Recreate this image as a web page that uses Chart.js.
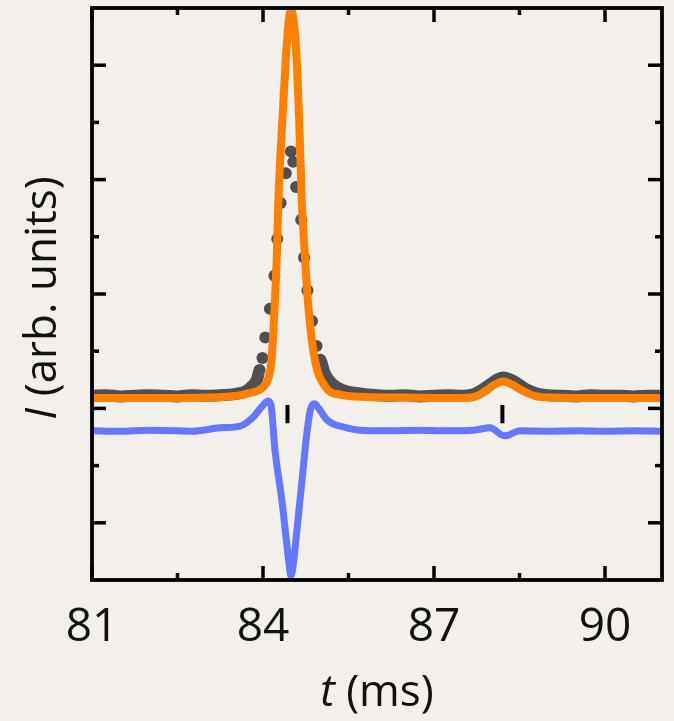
<!DOCTYPE html>
<html>
<head>
<meta charset="utf-8">
<script src="https://cdn.jsdelivr.net/npm/chart.js@4.4.1/dist/chart.umd.min.js"></script>
<style>
  html, body { margin: 0; padding: 0; background: #f3f0eb; }
  #wrap { width: 674px; height: 721px; }
</style>
</head>
<body>
<div id="wrap"><canvas id="pulse" width="674" height="721"></canvas></div>
<script>
// ── measured signal (dots near the peak), baseline band of the same signal
const dotT = [83.94, 83.99, 84.04, 84.12, 84.20, 84.25, 84.31, 84.40, 84.49, 84.53, 84.58, 84.67, 84.72, 84.78, 84.86, 84.94, 85.00];
const dotI = [3.67, 3.88, 4.24, 4.74, 5.32, 5.96, 6.59, 7.11, 7.49, 7.31, 6.87, 6.30, 5.64, 5.06, 4.53, 4.09, 3.85];

const bandT = [81.0, 81.25, 81.5, 81.75, 82.0, 82.25, 82.5, 82.75, 83.0, 83.25, 83.5, 83.7, 83.82, 83.9, 83.94,
               85.0, 85.08, 85.2, 85.4, 85.7, 86.0, 86.25, 86.5, 86.75, 87.0, 87.25, 87.5, 87.7, 87.85, 88.0, 88.12, 88.22,
               88.35, 88.5, 88.65, 88.8, 89.0, 89.25, 89.5, 89.75, 90.0, 90.25, 90.5, 90.75, 91.0];
const bandI = [3.22, 3.23, 3.21, 3.22, 3.23, 3.22, 3.21, 3.23, 3.22, 3.23, 3.25, 3.30, 3.40, 3.52, 3.67,
               3.85, 3.62, 3.44, 3.32, 3.26, 3.23, 3.22, 3.23, 3.21, 3.22, 3.23, 3.22, 3.25, 3.33, 3.43, 3.51, 3.54,
               3.50, 3.41, 3.32, 3.26, 3.23, 3.22, 3.21, 3.23, 3.22, 3.22, 3.21, 3.22, 3.22];

// ── fit
const fitT = [81.0, 82.0, 83.0, 83.42, 83.77, 84.01, 84.10, 84.15, 84.20, 84.24, 84.27, 84.33, 84.40, 84.45, 84.49,
              84.54, 84.59, 84.64, 84.68, 84.74, 84.80, 84.91, 85.09, 85.35, 85.8, 86.5, 87.4, 87.7, 87.9, 88.05, 88.22,
              88.38, 88.55, 88.8, 89.1, 90.0, 91.0];
const fitI = [3.18, 3.18, 3.19, 3.21, 3.27, 3.38, 3.55, 3.85, 4.70, 5.60, 6.65, 7.87, 9.12, 9.75, 9.97,
              9.75, 9.12, 7.87, 6.65, 5.60, 4.72, 3.85, 3.38, 3.24, 3.20, 3.19, 3.18, 3.20, 3.30, 3.41, 3.47,
              3.41, 3.31, 3.21, 3.19, 3.18, 3.18];

// ── residual
const resT = [81.0, 81.5, 82.0, 82.5, 82.76, 83.25, 83.60, 83.83, 83.98, 84.09, 84.14, 84.21, 84.33, 84.45, 84.49,
              84.53, 84.59, 84.68, 84.77, 84.83, 84.90, 84.97, 85.12, 85.47, 85.70, 86.2, 86.7, 87.2, 87.7, 87.98,
              88.24, 88.51, 89.0, 89.5, 90.0, 90.5, 91.0];
const resI = [2.61, 2.60, 2.62, 2.61, 2.60, 2.66, 2.69, 2.85, 3.03, 3.13, 3.06, 2.27, 1.40, 0.35, 0.07,
              0.26, 0.82, 1.70, 2.57, 2.97, 3.08, 3.01, 2.80, 2.66, 2.62, 2.61, 2.62, 2.61, 2.62, 2.66,
              2.52, 2.61, 2.60, 2.61, 2.60, 2.61, 2.60];

// ── peak markers
const markT = [84.43, 88.20];
const markLo = 2.74, markHi = 3.06;

// ── axes
const xMin = 81, xMax = 91, yMin = 0, yMax = 10;
const xMajor = [81, 84, 87, 90];
const xMinor = [82.5, 85.5, 88.5];
const xLabels = ['81', '84', '87', '90'];
const yMajor = [1, 3, 5, 7, 9];
const yMinor = [2, 4, 6, 8];

const pts = (xs, ys) => xs.map((x, i) => ({ x, y: ys[i] }));

const markData = [];
markT.forEach(t => {
  markData.push({ x: t, y: markLo }, { x: t, y: markHi }, { x: t, y: null });
});

const FONT = '"Open Sans", "DejaVu Sans", sans-serif';

// frame, inward ticks, tick labels and axis titles
const framePlugin = {
  id: 'frame',
  beforeDraw(chart) {
    const c = chart.ctx;
    c.save();
    c.fillStyle = '#f3f0eb';
    c.fillRect(0, 0, chart.width, chart.height);
    c.restore();
  },
  afterDatasetsDraw(chart) {
    const c = chart.ctx;
    const a = chart.chartArea;
    const sx = chart.scales.x, sy = chart.scales.y;
    c.save();
    c.strokeStyle = '#000';
    c.lineCap = 'butt';

    // ticks
    c.lineWidth = 3.5;
    const tick = (x1, y1, x2, y2) => { c.beginPath(); c.moveTo(x1, y1); c.lineTo(x2, y2); c.stroke(); };
    const BIG = 14, SMALL = 7;
    xMajor.concat(xMinor).forEach(v => {
      const len = xMajor.includes(v) ? BIG : SMALL;
      const px = sx.getPixelForValue(v);
      tick(px, a.bottom, px, a.bottom - len);
      tick(px, a.top, px, a.top + len);
    });
    yMajor.concat(yMinor).forEach(v => {
      const len = yMajor.includes(v) ? BIG : SMALL;
      const py = sy.getPixelForValue(v);
      tick(a.left, py, a.left + len, py);
      tick(a.right, py, a.right - len, py);
    });

    // frame
    c.lineWidth = 3.8;
    c.strokeRect(a.left, a.top, a.right - a.left, a.bottom - a.top);

    // tick labels
    c.fillStyle = '#111';
    c.font = '46px ' + FONT;
    c.textAlign = 'center';
    c.textBaseline = 'alphabetic';
    xMajor.forEach((v, i) => c.fillText(xLabels[i], sx.getPixelForValue(v), 641));

    // x title: italic t + (ms)
    const drawTitle = (parts, cx, cy) => {
      let w = 0;
      parts.forEach(p => { c.font = p.font; w += c.measureText(p.text).width; });
      let x = cx - w / 2;
      c.textAlign = 'left';
      parts.forEach(p => {
        c.font = p.font;
        c.fillText(p.text, x, cy);
        x += c.measureText(p.text).width;
      });
    };
    drawTitle([
      { text: 't', font: 'italic 44px ' + FONT },
      { text: ' (ms)', font: '44px ' + FONT }
    ], (a.left + a.right) / 2, 706);

    // y title, rotated
    c.translate(56, 298);
    c.rotate(-Math.PI / 2);
    drawTitle([
      { text: 'I', font: 'italic 44px ' + FONT },
      { text: ' (arb. units)', font: '44px ' + FONT }
    ], 0, 0);
    c.restore();
  }
};

new Chart(document.getElementById('pulse'), {
  type: 'line',
  data: {
    datasets: [
      {
        label: 'fit',
        data: pts(fitT, fitI),
        borderColor: '#ff8000',
        borderWidth: 8,
        pointRadius: 0,
        cubicInterpolationMode: 'monotone',
        order: 0,
      },
      {
        label: 'marks',
        data: markData,
        borderColor: '#000',
        borderWidth: 4,
        pointRadius: 0,
        spanGaps: false,
        order: 1,
      },
      {
        label: 'residual',
        data: pts(resT, resI),
        borderColor: '#6677ff',
        borderWidth: 7,
        pointRadius: 0,
        cubicInterpolationMode: 'monotone',
        order: 2,
      },
      {
        label: 'signal',
        data: pts(dotT, dotI),
        showLine: false,
        pointRadius: 6,
        pointBackgroundColor: '#4f4f4f',
        pointBorderWidth: 0,
        order: 3,
      },
      {
        label: 'signal band',
        data: pts(bandT, bandI),
        borderColor: '#505050',
        borderWidth: 12,
        pointRadius: 0,
        spanGaps: false,
        cubicInterpolationMode: 'monotone',
        segment: {
          borderColor: ctx => (ctx.p0.parsed.x < 84.5 && ctx.p1.parsed.x > 84.5) ? 'rgba(0,0,0,0)' : undefined,
        },
        order: 4,
      },
    ]
  },
  options: {
    responsive: false,
    animation: false,
    layout: { padding: { left: 92, right: 12, top: 8, bottom: 141 } },
    plugins: { legend: { display: false }, tooltip: { enabled: false } },
    scales: {
      x: { type: 'linear', min: xMin, max: xMax, display: false },
      y: { type: 'linear', min: yMin, max: yMax, display: false },
    }
  },
  plugins: [framePlugin]
});
</script>
</body>
</html>
